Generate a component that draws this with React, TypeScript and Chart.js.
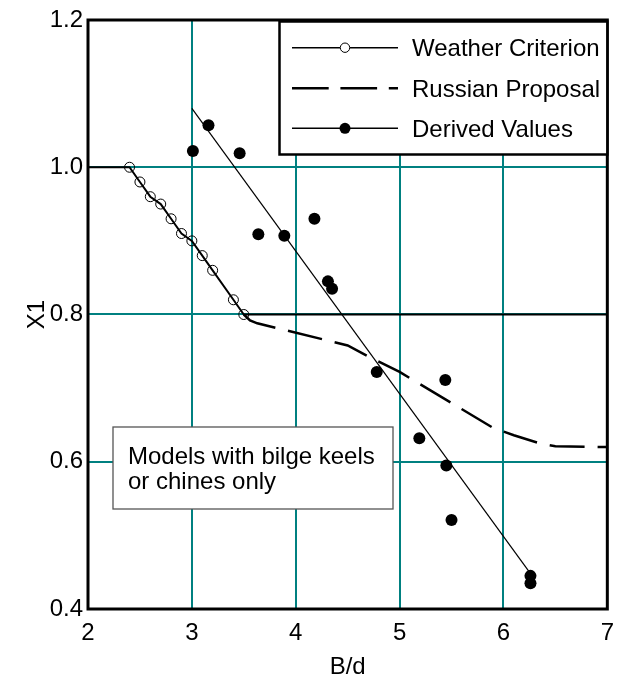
import { useEffect, useRef } from "react";
import { Chart, registerables } from "chart.js";

Chart.register(...registerables);

// ---- data ----
const xTickValues = [2, 3, 4, 5, 6, 7];
const yTickValues = [0.4, 0.6, 0.8, 1.0, 1.2];

const weatherX = [2.0, 2.4, 2.5, 2.6, 2.7, 2.8, 2.9, 3.0, 3.1, 3.2, 3.4, 3.5, 7.0];
const weatherY = [1.0, 1.0, 0.98, 0.96, 0.95, 0.93, 0.91, 0.9, 0.88, 0.86, 0.82, 0.8, 0.8];
const weatherMarked = [false, true, true, true, true, true, true, true, true, true, true, true, false];

const russianX = [3.5, 3.56, 3.63, 4.5, 4.7, 5.0, 5.9, 6.1, 6.35, 6.5, 7.0];
const russianY = [0.8, 0.792, 0.788, 0.758, 0.743, 0.722, 0.646, 0.636, 0.625, 0.621, 0.62];

const derivedX = [3.01, 3.16, 3.46, 3.64, 3.89, 4.18, 4.31, 4.35, 4.78, 5.19, 5.44, 5.45, 5.5, 6.26, 6.26];
const derivedY = [1.022, 1.057, 1.019, 0.909, 0.907, 0.93, 0.845, 0.835, 0.722, 0.632, 0.711, 0.595, 0.521, 0.445, 0.435];

const fitX = [3.0, 6.25];
const fitY = [1.08, 0.45];

const legendLabels = ["Weather Criterion", "Russian Proposal", "Derived Values"];
const noteLines = ["Models with bilge keels", "or chines only"];
const xTitle = "B/d";
const yTitle = "X1";

const FONT = '24px "Liberation Sans", Arial, Helvetica, sans-serif';
const TEAL = "#008080";

const toPoints = (xs: number[], ys: number[]) => xs.map((x, i) => ({ x, y: ys[i] }));

const decorPlugin = {
  id: "decor",
  afterDraw(chart: any) {
    const ctx = chart.ctx as CanvasRenderingContext2D;
    const a = chart.chartArea;
    ctx.save();
    // frame
    ctx.strokeStyle = "#000";
    ctx.lineWidth = 3;
    ctx.strokeRect(a.left, a.top, a.right - a.left, a.bottom - a.top);

    // legend box
    const lx = 279.5, ly = 21.5, lw = a.right - 279.5, lh = 133;
    ctx.fillStyle = "#fff";
    ctx.fillRect(lx, ly, lw, lh);
    ctx.lineWidth = 2.5;
    ctx.strokeStyle = "#000";
    ctx.strokeRect(lx, ly, lw, lh);

    const rows = [47.7, 88.3, 128.3];
    const x0 = 292, x1 = 398, xm = 345;
    // row 1: line with open circle
    ctx.lineWidth = 1.5;
    ctx.beginPath(); ctx.moveTo(x0, rows[0]); ctx.lineTo(xm - 5, rows[0]); ctx.moveTo(xm + 5, rows[0]); ctx.lineTo(x1, rows[0]); ctx.stroke();
    ctx.lineWidth = 1;
    ctx.beginPath(); ctx.arc(xm, rows[0], 4.7, 0, Math.PI * 2); ctx.stroke();
    // row 2: dashed
    ctx.lineWidth = 2.5;
    ctx.setLineDash([36.7, 11.7]);
    ctx.beginPath(); ctx.moveTo(x0, rows[1]); ctx.lineTo(x1, rows[1]); ctx.stroke();
    ctx.setLineDash([]);
    // row 3: line with filled dot
    ctx.lineWidth = 1.5;
    ctx.beginPath(); ctx.moveTo(x0, rows[2]); ctx.lineTo(x1, rows[2]); ctx.stroke();
    ctx.fillStyle = "#000";
    ctx.beginPath(); ctx.arc(xm, rows[2], 5.5, 0, Math.PI * 2); ctx.fill();

    ctx.font = FONT;
    ctx.fillStyle = "#000";
    ctx.textBaseline = "alphabetic";
    ctx.textAlign = "left";
    legendLabels.forEach((t, i) => ctx.fillText(t, 412, rows[i] + 8.3));

    // note box
    ctx.fillStyle = "#fff";
    ctx.fillRect(113, 427, 280, 82);
    ctx.strokeStyle = "#555";
    ctx.lineWidth = 1.3;
    ctx.strokeRect(113, 427, 280, 82);
    ctx.fillStyle = "#000";
    ctx.fillText(noteLines[0], 128, 464);
    ctx.fillText(noteLines[1], 128, 488.5);

    // axis titles
    ctx.textAlign = "center";
    ctx.fillText(xTitle, (a.left + a.right) / 2, 674);
    ctx.translate(37, (a.top + a.bottom) / 2);
    ctx.rotate(-Math.PI / 2);
    ctx.textBaseline = "middle";
    ctx.fillText(yTitle, 0, 0);
    ctx.restore();
  },
};

export default function App() {
  const ref = useRef<HTMLCanvasElement | null>(null);

  useEffect(() => {
    document.body.style.margin = "0";
    if (!ref.current) return;
    const chart = new Chart(ref.current, {
      type: "line",
      data: {
        datasets: [
          {
            label: legendLabels[0],
            data: toPoints(weatherX, weatherY),
            borderColor: "#000",
            borderWidth: 2,
            pointRadius: weatherMarked.map((m) => (m ? 5 : 0)),
            pointBackgroundColor: "rgba(0,0,0,0)",
            pointBorderColor: "#000",
            pointBorderWidth: 1,
            tension: 0,
          },
          {
            label: legendLabels[1],
            data: toPoints(russianX, russianY),
            borderColor: "#000",
            borderWidth: 2.5,
            borderDash: [35, 13],
            pointRadius: 0,
            tension: 0,
          },
          {
            label: legendLabels[2],
            data: toPoints(derivedX, derivedY),
            showLine: false,
            pointRadius: 6,
            pointBackgroundColor: "#000",
            pointBorderColor: "#000",
            pointBorderWidth: 0,
          },
          {
            label: "fit",
            data: toPoints(fitX, fitY),
            borderColor: "#000",
            borderWidth: 1.2,
            pointRadius: 0,
            tension: 0,
          },
        ],
      },
      options: {
        animation: false,
        responsive: false,
        devicePixelRatio: 1,
        layout: { padding: { top: 20, right: 14, left: 0, bottom: 0 } },
        plugins: { legend: { display: false }, tooltip: { enabled: false } },
        scales: {
          x: {
            type: "linear",
            min: 2,
            max: 7,
            afterBuildTicks: (s: any) => { s.ticks = xTickValues.map((v) => ({ value: v })); },
            ticks: { color: "#000", font: { size: 24, family: '"Liberation Sans", Arial, sans-serif' }, padding: 10, maxRotation: 0 },
            grid: { color: TEAL, lineWidth: 2, drawTicks: false },
            border: { display: false },
            afterFit: (s: any) => { s.height = 71; },
          },
          y: {
            type: "linear",
            min: 0.4,
            max: 1.2,
            afterBuildTicks: (s: any) => { s.ticks = yTickValues.map((v) => ({ value: v })); },
            ticks: { color: "#000", font: { size: 24, family: '"Liberation Sans", Arial, sans-serif' }, padding: 5, callback: (v: any) => Number(v).toFixed(1) },
            grid: { color: TEAL, lineWidth: 2, drawTicks: false },
            border: { display: false },
            afterFit: (s: any) => { s.width = 88; },
          },
        },
      },
      plugins: [decorPlugin],
    } as any);
    return () => chart.destroy();
  }, []);

  return (
    <div style={{ position: "absolute", left: 0, top: 0, width: 624, height: 680, background: "#fff" }}>
      <canvas ref={ref} width={624} height={680} />
    </div>
  );
}
